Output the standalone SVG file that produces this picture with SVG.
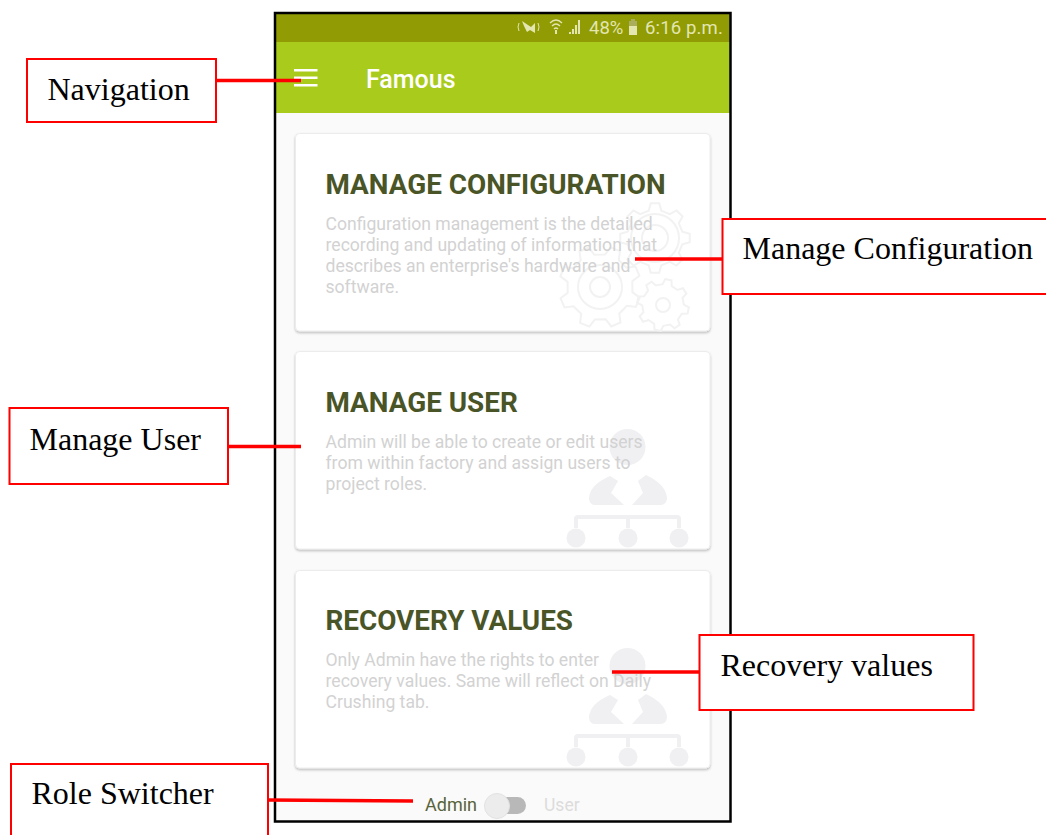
<svg xmlns="http://www.w3.org/2000/svg" width="1046" height="835" viewBox="0 0 1046 835">
<style>
.callout{fill:#fff;stroke:#f00;stroke-width:2}
.lbl{font-family:"Liberation Serif",serif;font-size:32px;fill:#000}
.card{fill:#fff;stroke:#ececec;stroke-width:1;filter:url(#sh)}
.title{font-family:Roboto,sans-serif;font-weight:700;font-size:27.850px;fill:#4a5527}
.desc{font-family:Roboto,sans-serif;font-size:17.600px;fill:#d2d2d2}
.ic{fill:#f0f0f2}
.gear{fill:none;stroke:#f2f2f3;stroke-width:2}
.gear use,.gear path{vector-effect:non-scaling-stroke}
.conn{stroke:#f00;stroke-width:3.500;fill:none}
</style>
<defs>
<filter id="sh" x="-5%" y="-5%" width="110%" height="110%"><feDropShadow dx="0" dy="1.500" stdDeviation="1.200" flood-color="#000" flood-opacity=".25"/></filter>
<path id="cog" vector-effect="non-scaling-stroke" d="M.78-.18L.993-.122L.993.122L.78.18L.679.424L.788.616L.616.788L.424.679L.18.78L.122.993L-.122.993L-.18.78L-.424.679L-.616.788L-.788.616L-.679.424L-.78.18L-.993.122L-.993-.122L-.78-.18L-.679-.424L-.788-.616L-.616-.788L-.424-.679L-.18-.78L-.122-.993L.122-.993L.18-.78L.424-.679L.616-.788L.788-.616L.679-.424Z"/>
<g id="org">
<circle cx="87.500" cy="38" r="18"/>
<path d="M70 67 Q49 76 49 90 Q50 96 55 96 L84 96 L71 84 L78 72 Z M106 66 Q127 76 127 90 Q126 96 120 96 L92 96 L103 84 L98 72 Z"/>
<path d="M34 119 V110 Q34 106 38 106 H137 Q141 106 141 110 V119 H137 V110 H90 V119 H86 V110 H38 V119 Z"/>
<circle cx="36" cy="129" r="9.500"/><circle cx="88" cy="129" r="9.500"/><circle cx="139" cy="129" r="9.500"/>
</g>
</defs>
<rect width="1046" height="835" fill="#fff"/>
<g id="phone">
<rect x="276" y="14" width="454" height="807" fill="#fafafa"/>
<rect x="276" y="14" width="454" height="28" fill="#919b04"/>
<rect x="276" y="42" width="454" height="71" fill="#a9cb1c"/>
<rect x="275" y="13" width="455.500" height="808.500" fill="none" stroke="#000" stroke-width="2.500"/>
<g id="status" fill="#e3e6b0">
<path d="M522 21 L531 27 L535 23 V33 L530 30 L527 32 L524 26 Z"/>
<path d="M519 23 Q517 27 519 31 M538 23 Q540 27 538 31" stroke="#e3e6b0" fill="none"/>
<path d="M550 23 Q556 17 562 23 M552 26 Q556 22 560 26 M554 29 Q556 27 558 29" stroke="#e3e6b0" fill="none" stroke-width="1.300"/>
<path d="M555 30 h2 v4 h-2z"/>
<path d="M569 34 h2 v-2 h-2z M572 34 h2 v-5 h-2z M575 34 h2 v-9 h-2z M578 34 h2 v-14 h-2z"/>
<path d="M629 21 h2 v-2 h4 v2 h2 v14 h-8z" fill="#a9ad5c"/><path d="M629 26 h8 v9 h-8z"/>
<text x="589" y="34" font-family="Roboto,sans-serif" font-size="18.500">48%</text>
<text x="645" y="34" font-family="Roboto,sans-serif" font-size="18.500" letter-spacing=".15">6:16 p.m.</text>
</g>
<g id="appbar" fill="#fff">
<rect x="294" y="69" width="23.500" height="2.500"/><rect x="294" y="76.500" width="23.500" height="2.500"/><rect x="294" y="84" width="23.500" height="2.500"/>
<text x="366" y="88" font-family="Roboto,sans-serif" font-weight="500" font-size="25">Famous</text>
</g>
</g>
<g id="card-config">
<rect class="card" x="295.500" y="133.500" width="414.500" height="197.500" rx="4"/>
<g class="gear">
<use href="#cog" transform="translate(655 238) scale(35)"/><circle cx="655" cy="238" r="13"/><circle cx="655" cy="238" r="24"/>
<use href="#cog" transform="translate(600 287) rotate(22) scale(41)"/><circle cx="600" cy="287" r="10"/><circle cx="600" cy="287" r="22"/>
<use href="#cog" transform="translate(663 305) rotate(12) scale(26)"/><circle cx="663" cy="305" r="7"/>
</g>
<text class="title" x="325.500" y="194">MANAGE CONFIGURATION</text>
<text class="desc"><tspan x="325.500" y="230">Configuration management is the detailed</tspan><tspan x="325.500" y="251">recording and updating of information that</tspan><tspan x="325.500" y="272">describes an enterprise's hardware and</tspan><tspan x="325.500" y="293">software.</tspan></text>
</g>
<g id="card-user">
<rect class="card" x="295.500" y="351.500" width="414.500" height="197.500" rx="4"/>
<use href="#org" x="540" y="409" class="ic"/>
<text class="title" x="325.500" y="412">MANAGE USER</text>
<text class="desc"><tspan x="325.500" y="448">Admin will be able to create or edit users</tspan><tspan x="325.500" y="469">from within factory and assign users to</tspan><tspan x="325.500" y="490">project roles.</tspan></text>
</g>
<g id="card-recovery">
<rect class="card" x="295.500" y="570.500" width="414.500" height="197.500" rx="4"/>
<use href="#org" x="540" y="628" class="ic"/>
<text class="title" x="325.500" y="630">RECOVERY VALUES</text>
<text class="desc"><tspan x="325.500" y="666">Only Admin have the rights to enter</tspan><tspan x="325.500" y="687">recovery values. Same will reflect on Daily</tspan><tspan x="325.500" y="708">Crushing tab.</tspan></text>
</g>
<g id="switcher">
<text x="425" y="811" font-family="Roboto,sans-serif" font-size="18" fill="#59633a">Admin</text>
<rect x="494" y="797" width="32" height="17" rx="8.500" fill="#b8b8b8"/>
<circle cx="497" cy="806" r="12.500" fill="#ececec" stroke="#e2e2e2"/>
<text x="544" y="811" font-family="Roboto,sans-serif" font-size="17.500" fill="#dcdcdc">User</text>
</g>
<g id="connectors">
<path class="conn" d="M216 80.500 H301"/>
<path class="conn" d="M635 259 H722"/>
<path class="conn" d="M228 446.500 H301"/>
<path class="conn" d="M612 672 H699"/>
<path class="conn" d="M268 800 L413 801"/>
</g>
<g id="navigation"><rect class="callout" x="27" y="59" width="189" height="63"/><text class="lbl" x="47.500" y="100">Navigation</text></g>
<g id="manage-configuration"><rect class="callout" x="722.500" y="219" width="330" height="75"/><text class="lbl" x="742.500" y="259">Manage Configuration</text></g>
<g id="manage-user"><rect class="callout" x="9.500" y="408" width="218.500" height="76"/><text class="lbl" x="29.500" y="450">Manage User</text></g>
<g id="recovery-values"><rect class="callout" x="699.500" y="635" width="274" height="75"/><text class="lbl" x="720.500" y="676">Recovery values</text></g>
<g id="role-switcher"><rect class="callout" x="11" y="764" width="257" height="80"/><text class="lbl" x="31.500" y="804">Role Switcher</text></g>
</svg>
